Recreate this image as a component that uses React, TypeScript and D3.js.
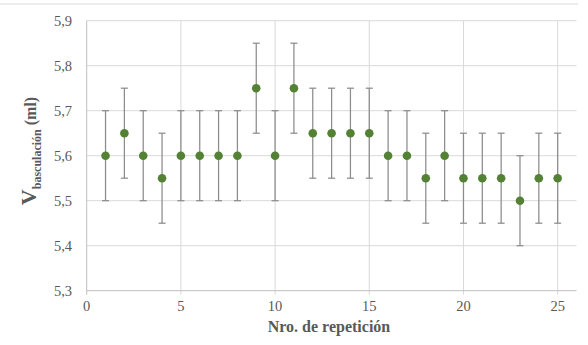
import * as d3 from 'd3';

const repetitions = [1, 2, 3, 4, 5, 6, 7, 8, 9, 10, 11, 12, 13, 14, 15, 16, 17, 18, 19, 20, 21, 22, 23, 24, 25];
const volumes = [
  5.6, 5.65, 5.6, 5.55, 5.6, 5.6, 5.6, 5.6, 5.75, 5.6, 5.75, 5.65, 5.65, 5.65, 5.65, 5.6, 5.6, 5.55,
  5.6, 5.55, 5.55, 5.55, 5.5, 5.55, 5.55,
];
const errors = [
  0.1, 0.1, 0.1, 0.1, 0.1, 0.1, 0.1, 0.1, 0.1, 0.1, 0.1, 0.1, 0.1, 0.1, 0.1, 0.1, 0.1, 0.1, 0.1, 0.1,
  0.1, 0.1, 0.1, 0.1, 0.1,
];
const xTicks = [0, 5, 10, 15, 20, 25];
const yTicks = [5.3, 5.4, 5.5, 5.6, 5.7, 5.8, 5.9];

const width = 588;
const height = 345;
const font = "'Liberation Serif', 'Noto Serif', 'DejaVu Serif', 'FreeSerif', serif";

export default function App() {
  const x = d3.scaleLinear().domain([0, 26]).range([86.7, 576.5]);
  const y = d3.scaleLinear().domain([5.3, 5.9]).range([290.7, 20.7]);
  const fmt = (v: number) => d3.format('.1f')(v).replace('.', ',');

  const left = x.range()[0];
  const right = x.range()[1];
  const bottom = y.range()[0];
  const top = y.range()[1];

  return (
    <div>
      <style>{'body{margin:0}'}</style>
      <svg width={width} height={height} style={{ display: 'block', background: '#fff', fontFamily: font }}>
        <line x1={0} x2={578} y1={4} y2={4} stroke="#d9d9d9" strokeWidth={1} />

        {/* gridlines */}
        {yTicks.slice(1).map((t) => (
          <line key={'gy' + t} x1={left} x2={right} y1={y(t)} y2={y(t)} stroke="#d9d9d9" strokeWidth={1} />
        ))}
        {xTicks.slice(1).map((t) => (
          <line key={'gx' + t} x1={x(t)} x2={x(t)} y1={top} y2={bottom + 4} stroke="#d9d9d9" strokeWidth={1} />
        ))}

        {/* axes */}
        <line x1={left} x2={right} y1={bottom} y2={bottom} stroke="#bfbfbf" strokeWidth={1} />
        <line x1={left} x2={left} y1={top} y2={bottom + 4} stroke="#bfbfbf" strokeWidth={1} />

        {/* tick labels */}
        {yTicks.map((t) => (
          <text key={'ly' + t} x={72} y={y(t)} dy="0.35em" textAnchor="end" fontSize={14.5} fill="#595959">
            {fmt(t)}
          </text>
        ))}
        {xTicks.map((t) => (
          <text key={'lx' + t} x={x(t)} y={311} textAnchor="middle" fontSize={14.5} fill="#595959">
            {t}
          </text>
        ))}

        {/* error bars */}
        {repetitions.map((r, i) => {
          const cx = x(r);
          const y1 = y(volumes[i] + errors[i]);
          const y2 = y(volumes[i] - errors[i]);
          return (
            <g key={'e' + r} stroke="#8c8c8c" strokeWidth={1.25}>
              <line x1={cx} x2={cx} y1={y1} y2={y2} />
              <line x1={cx - 3.5} x2={cx + 3.5} y1={y1} y2={y1} />
              <line x1={cx - 3.5} x2={cx + 3.5} y1={y2} y2={y2} />
            </g>
          );
        })}

        {/* points */}
        {repetitions.map((r, i) => (
          <circle key={'p' + r} cx={x(r)} cy={y(volumes[i])} r={4.3} fill="#548235" />
        ))}

        {/* axis titles */}
        <text x={329} y={332} textAnchor="middle" fontSize={16} fontWeight="bold" fill="#595959">
          Nro. de repetición
        </text>
        <text transform="translate(36,151) rotate(-90)" textAnchor="middle" fontWeight="bold" fill="#595959">
          <tspan fontSize={22}>V</tspan>
          <tspan fontSize={12} dy={5}>
            basculación
          </tspan>
          <tspan fontSize={16} dy={-5}>
            {' (ml)'}
          </tspan>
        </text>
      </svg>
    </div>
  );
}
